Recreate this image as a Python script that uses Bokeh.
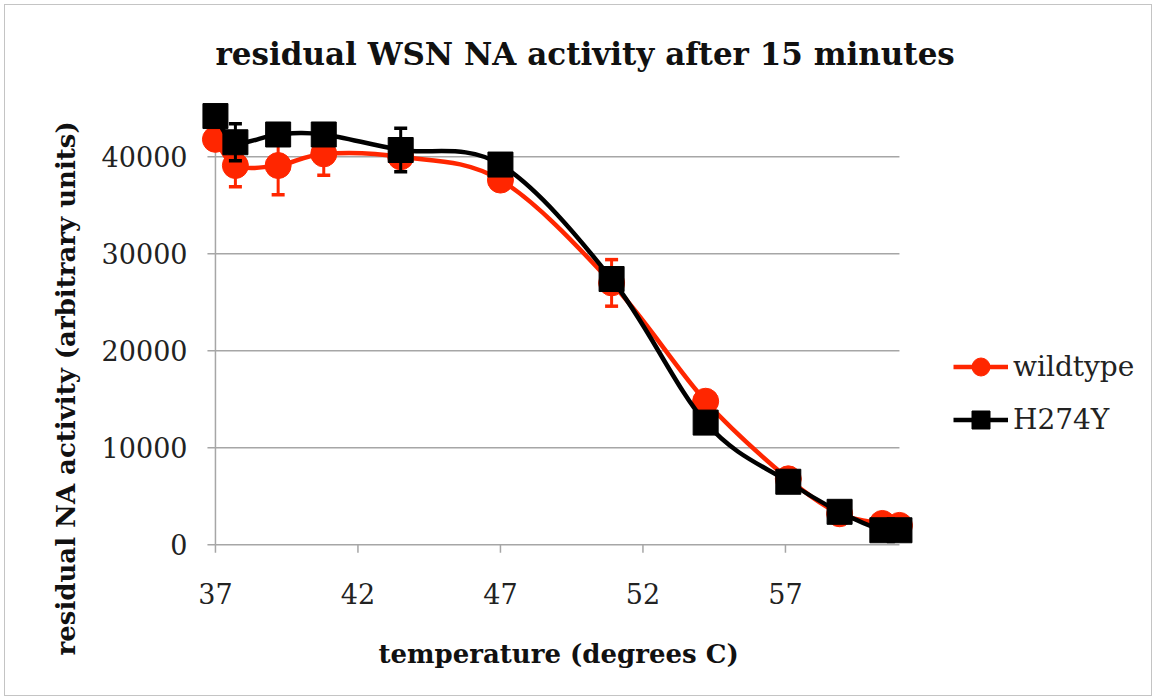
from bokeh.plotting import figure
from bokeh.models import (Range1d, FixedTicker, ColumnDataSource, Legend, LegendItem, Title,
                          InlineStyleSheet)
from bokeh.embed import file_html
from bokeh.resources import INLINE

# ---------------- data ----------------
temperature = [37, 37.7, 39.2, 40.8, 43.5, 47, 50.9, 54.2, 57.1, 58.9, 60.4, 61]
wildtype = [41800, 39100, 39100, 40300, 40000, 37600, 27000, 14800, 6800, 3200, 2200, 2000]
wildtype_err = [900, 2200, 3000, 2200, 900, 600, 2400, 600, 500, 400, 300, 300]
h274y = [44200, 41500, 42300, 42300, 40700, 39200, 27400, 12600, 6500, 3400, 1500, 1500]
h274y_err = [900, 1900, 800, 800, 2250, 500, 800, 700, 500, 400, 300, 300]
x_ticks = [37, 42, 47, 52, 57]
y_ticks = [0, 10000, 20000, 30000, 40000]
x_axis_range = (37, 61)
y_axis_range = (0, 45000)

RED = "#FF2600"
BLACK = "#000000"
GRID = "#A6A6A6"
SERIF = "DejaVu Serif"

# ---------------- geometry ----------------
W, H = 1156, 700
LEFT, RIGHT, TOP, BOTTOM = 195, 10, 94, 146
PX_X = 28.5            # pixels per degree
PX_Y = 97.0 / 10000    # pixels per activity unit
PAD_X, PAD_Y_LO = 0.7, 1000
x_start = x_axis_range[0] - PAD_X
x_end = x_start + (W - LEFT - RIGHT) / PX_X
y_start = y_axis_range[0] - PAD_Y_LO
y_end = y_start + (H - TOP - BOTTOM) / PX_Y
TICK = 8  # px


def smooth_segments(xs, ys):
    """Excel-style smoothed line: cubic Bezier segments through the points."""
    n = len(xs)
    d = dict(x0=[], y0=[], x1=[], y1=[], cx0=[], cy0=[], cx1=[], cy1=[])
    for i in range(n - 1):
        pm = max(i - 1, 0)
        pp = min(i + 2, n - 1)
        d["x0"].append(xs[i]); d["y0"].append(ys[i])
        d["x1"].append(xs[i + 1]); d["y1"].append(ys[i + 1])
        d["cx0"].append(xs[i] + (xs[i + 1] - xs[pm]) / 6.0)
        d["cy0"].append(ys[i] + (ys[i + 1] - ys[pm]) / 6.0)
        d["cx1"].append(xs[i + 1] - (xs[pp] - xs[i]) / 6.0)
        d["cy1"].append(ys[i + 1] - (ys[pp] - ys[i]) / 6.0)
    return ColumnDataSource(d)


p = figure(width=W, height=H,
           x_range=Range1d(x_start, x_end), y_range=Range1d(y_start, y_end),
           output_backend="svg", toolbar_location=None,
           min_border_left=LEFT, min_border_right=RIGHT,
           min_border_top=TOP, min_border_bottom=BOTTOM)
p.outline_line_color = None
p.background_fill_color = "white"
p.border_fill_color = "white"
p.xgrid.visible = False
p.ygrid.visible = False
p.stylesheets = [InlineStyleSheet(css=(
    ":host::after { content: ''; position: absolute; left: 4px; top: 4px; right: 4px; "
    "bottom: 4px; border: 1px solid #c4c4c4; pointer-events: none; z-index: 100; }"))]

# ---- horizontal grid lines, axis lines and tick marks (between axis bounds) ----
p.segment(x0=[x_axis_range[0]] * (len(y_ticks) - 1), y0=y_ticks[1:],
          x1=[x_axis_range[1]] * (len(y_ticks) - 1), y1=y_ticks[1:],
          line_color=GRID, line_width=1.5)
p.segment(x0=[x_axis_range[0]], y0=[y_axis_range[0]], x1=[x_axis_range[1]], y1=[y_axis_range[0]],
          line_color=GRID, line_width=1.5)
p.segment(x0=[x_axis_range[0]], y0=[y_axis_range[0]], x1=[x_axis_range[0]], y1=[y_axis_range[1]],
          line_color=GRID, line_width=1.5)
p.segment(x0=[x_axis_range[0] - TICK / PX_X] * len(y_ticks), y0=y_ticks,
          x1=[x_axis_range[0]] * len(y_ticks), y1=y_ticks,
          line_color=GRID, line_width=1.5)
p.segment(x0=x_ticks, y0=[y_axis_range[0]] * len(x_ticks),
          x1=x_ticks, y1=[y_axis_range[0] - TICK / PX_Y] * len(x_ticks),
          line_color=GRID, line_width=1.5)

# ---- axes: only their tick labels are shown ----
for ax, ticks in ((p.xaxis[0], x_ticks), (p.yaxis[0], y_ticks)):
    ax.ticker = FixedTicker(ticks=ticks)
    ax.axis_line_color = None
    ax.major_tick_line_color = None
    ax.minor_tick_line_color = None
    ax.major_tick_out = 0
    ax.major_tick_in = 0
    ax.major_label_text_font = SERIF
    ax.major_label_text_font_size = "27px"
    ax.major_label_text_color = "#222222"
p.xaxis[0].major_label_standoff = 28
p.yaxis[0].major_label_standoff = 8

frame_bottom = H - BOTTOM

p.add_layout(Title(text="residual NA activity (arbitrary units)", align="left",
                   offset=-(655 - frame_bottom), standoff=36, text_font=SERIF,
                   text_font_style="bold", text_font_size="26px",
                   text_color="#111111"), "left")
p.add_layout(Title(text="temperature (degrees C)", align="left",
                   offset=378 - LEFT, standoff=60, text_font=SERIF,
                   text_font_style="bold", text_font_size="26px",
                   text_color="#111111"), "below")

p.title.text = "residual WSN NA activity after 15 minutes"
p.title.align = "left"
p.title.offset = 215 - LEFT
p.title.text_font = SERIF
p.title.text_font_style = "bold"
p.title.text_font_size = "31px"
p.title.text_color = "#111111"
p.title.standoff = 46


# ---------------- series ----------------
def draw_series(ys, errs, color, marker, size):
    line = p.bezier(x0="x0", y0="y0", x1="x1", y1="y1", cx0="cx0", cy0="cy0",
                    cx1="cx1", cy1="cy1", source=smooth_segments(temperature, ys),
                    line_color=color, line_width=4.5)
    src = ColumnDataSource(dict(x=temperature, y=ys,
                                lo=[v - e for v, e in zip(ys, errs)],
                                hi=[v + e for v, e in zip(ys, errs)]))
    p.segment(x0="x", y0="lo", x1="x", y1="hi", source=src, line_color=color, line_width=3)
    p.scatter(x="x", y="lo", source=src, marker="dash", size=13, line_color=color, line_width=3.5)
    p.scatter(x="x", y="hi", source=src, marker="dash", size=13, line_color=color, line_width=3.5)
    pts = p.scatter(x="x", y="y", source=src, marker=marker, size=size,
                    fill_color=color, line_color=color)
    return line, pts


wt_line, wt_pts = draw_series(wildtype, wildtype_err, RED, "circle", 26)
mt_line, mt_pts = draw_series(h274y, h274y_err, BLACK, "square", 25)

legend = Legend(items=[LegendItem(label="wildtype", renderers=[wt_line, wt_pts]),
                       LegendItem(label="H274Y", renderers=[mt_line, mt_pts])],
                location=(758, 112), orientation="vertical",
                glyph_width=55, glyph_height=45, label_height=45,
                label_standoff=5, spacing=8, padding=0, margin=0,
                border_line_color=None, background_fill_alpha=0,
                label_text_font=SERIF, label_text_font_size="28px",
                label_text_color="#222222")
p.add_layout(legend, "center")

open("out.html", "w").write(file_html(p, INLINE))
